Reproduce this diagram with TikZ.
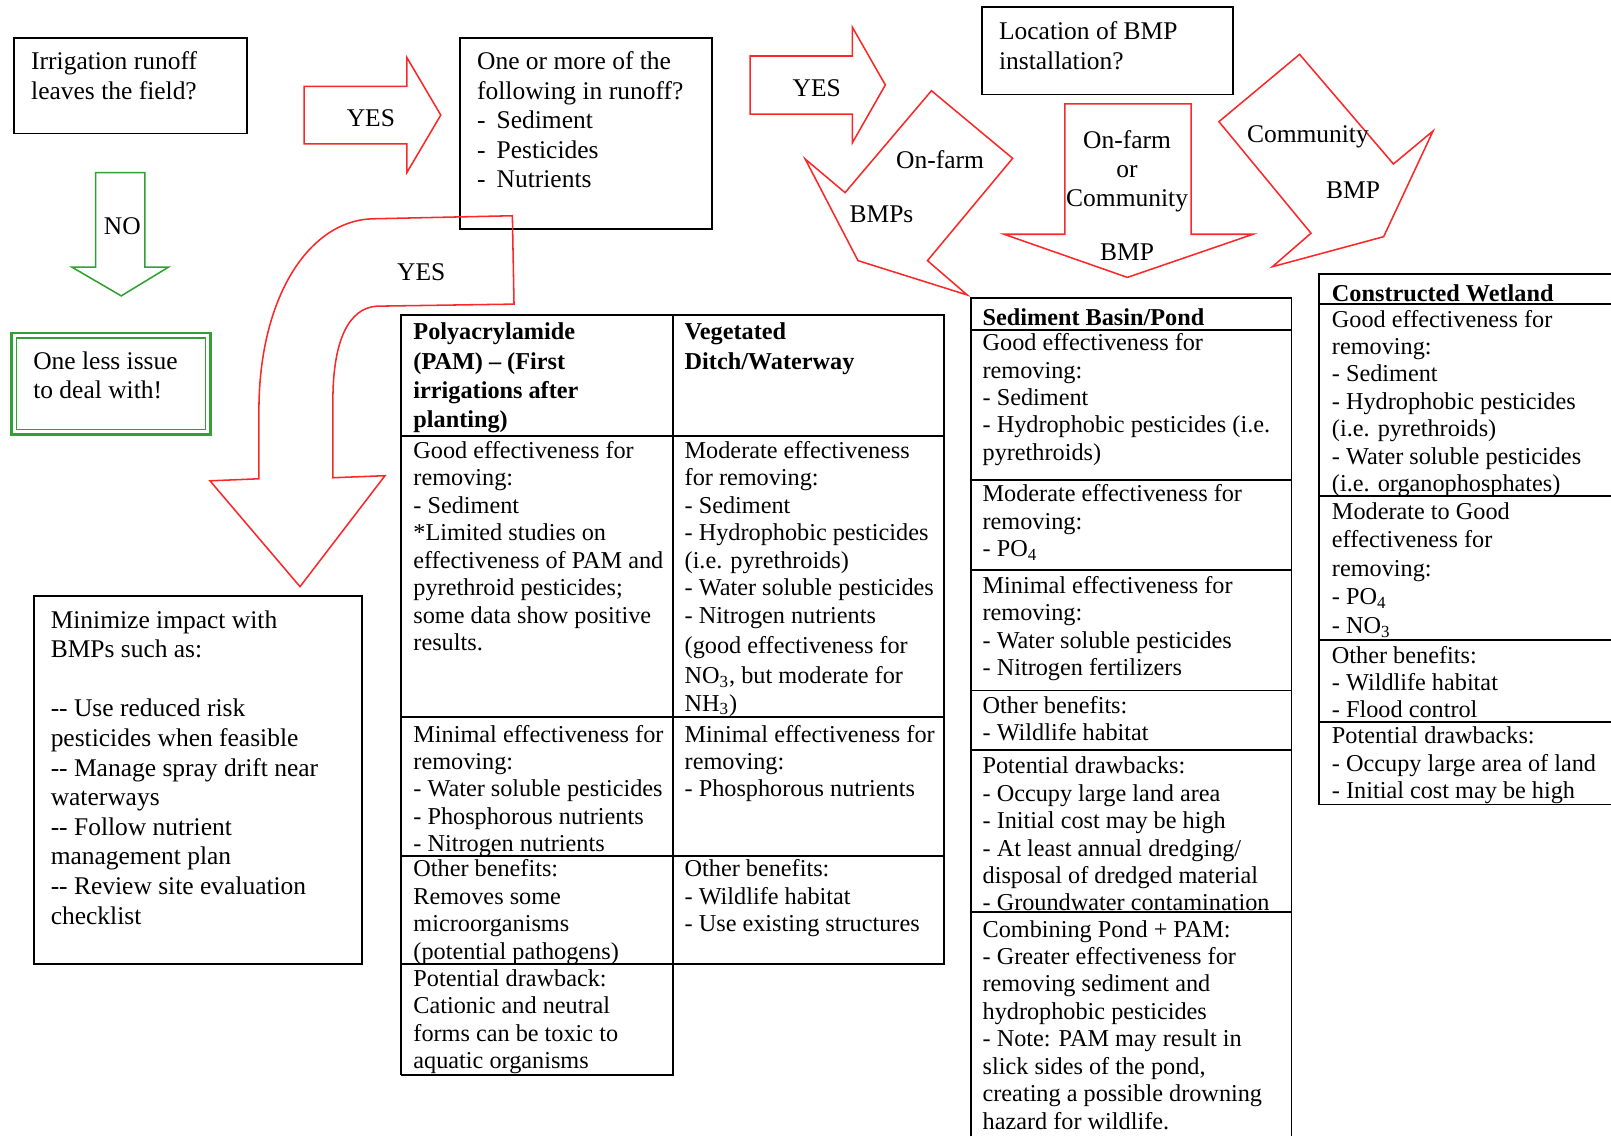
\documentclass[tikz,border=0pt]{standalone}
\usepackage{fontspec}
\setmainfont{Liberation Serif}
\definecolor{arrred}{RGB}{250,40,40}
\definecolor{grn}{RGB}{50,160,50}
\newcommand\tfont{\fontsize{11.8}{13.35}\selectfont}
\newcommand\hfont{\fontsize{11.8}{14.3}\selectfont\bfseries}
\newcommand\bxfont{\fontsize{12.4}{14.4}\selectfont}
\newcommand\wfont{\fontsize{11.8}{13.9}\selectfont}
\newcommand\dsh{\makebox[9.5pt][l]{-}}
\tikzset{
  bx/.style={draw=black, line width=0.9pt},
  tl/.style={draw=black, line width=0.9pt},
  rarr/.style={draw=arrred, line width=0.75pt, line join=miter},
  garr/.style={draw=grn, line width=0.75pt},
  basecell/.style={anchor=north west, inner sep=0pt, align=left, execute at begin node=\strut},
  cell/.style={basecell, font=\tfont, yshift=4.35pt},
  hcell/.style={basecell, font=\hfont, yshift=5pt},
  bcell/.style={basecell, font=\bxfont, yshift=5.1pt},
  wcell/.style={basecell, font=\wfont, yshift=4.75pt},
  lbl/.style={inner sep=0pt, font=\bxfont}
}
\begin{document}
\begin{tikzpicture}[x=0.5pt,y=-0.5pt]
\useasboundingbox (0,0) rectangle (1568,1106);

% ---------- question boxes ----------
\draw[bx] (14,37) rectangle (240,130);
\node[bcell] (q1) at (30,60) {Irrigation runoff\\leaves the field?};

\draw[bx] (448,37) rectangle (693,223);
\node[bcell] (q2) at (464,60) {One or more of the\\following in runoff?\\\dsh Sediment\\\dsh Pesticides\\\dsh Nutrients};

\draw[bx] (956,7) rectangle (1200,92);
\node[bcell] (q3) at (972,31) {Location of BMP\\installation?};

% ---------- green ----------
\draw[garr] (93,168) -- (141,168) -- (141,260) -- (164,260) -- (118,288) -- (70,260) -- (93,260) -- cycle;
\node[lbl] (no) at (119,220) {NO};
\draw[grn, line width=1.3pt] (11,324) rectangle (205,423);
\draw[grn, line width=0.9pt] (16,329) rectangle (200,418);
\node[bcell] (less) at (32,352) {One less issue\\to deal with!};

% ---------- red arrows ----------
\draw[rarr] (296,84) -- (396,84) -- (396,56) -- (429,112) -- (396,168) -- (396,140) -- (296,140) -- cycle;
\node[lbl] (yes1) at (361,115) {YES};

\draw[rarr] (498.7,210) -- (500.3,296) -- (366.5,298) .. controls (340,300) and (324,330) .. (324,390) -- (324,465) -- (374.7,463) -- (292,571) -- (204.4,468) -- (252,466) -- (252,400) .. controls (252,290) and (300,216) .. (361,213) -- cycle;
\node[lbl] (yes2) at (410,265) {YES};

\draw[rarr] (730,54.5) -- (829.7,54.5) -- (829.7,26.6) -- (861.7,82.7) -- (829.7,138.9) -- (829.7,111) -- (730,111) -- cycle;
\node[lbl] (yes3) at (795,86) {YES};

\draw[rarr] (783.7,154.8) -- (835.1,253.7) -- (941.4,287.1) -- (902.7,253.7) -- (985.6,154.1) -- (906.6,88.3) -- (822.5,187.5) -- cycle;
\node[lbl] (of1) at (915,155) {On-farm};
\node[lbl] (of2) at (858,209) {BMPs};

\draw[rarr] (1036.5,101.2) -- (1159.3,101.2) -- (1159.3,228) -- (1219.6,228) -- (1097.3,270) -- (977.2,228) -- (1036.5,228) -- cycle;
\node[lbl] (oc1) at (1097,136) {On-farm};
\node[lbl] (oc2) at (1097,167) {or};
\node[lbl] (oc3) at (1097,195) {Community};
\node[lbl] (oc4) at (1097,245) {BMP};

\draw[rarr] (1264.9,52.9) -- (1186.4,118.4) -- (1276,227) -- (1238.4,259.6) -- (1346.7,230.4) -- (1394.8,127.5) -- (1356.2,159.6) -- cycle;
\node[lbl] (cm1) at (1273,133) {Community};
\node[lbl] (cm2) at (1317,185) {BMP};

% ---------- Minimize box ----------
\draw[bx] (33,580) rectangle (352,938);
\node[bcell] (mini) at (49,604) {Minimize impact with\\BMPs such as:\\[14.4pt]-{}- Use reduced risk\\pesticides when feasible\\-{}- Manage spray drift near\\waterways\\-{}- Follow nutrient\\management plan\\-{}- Review site evaluation\\checklist};

% ---------- PAM / Vegetated table ----------
\draw[tl] (390,1046) -- (390,307) -- (919,307) -- (919,938) -- (390,938);
\draw[tl] (655,307) -- (655,1046) -- (390,1046);
\draw[tl] (390,424) -- (919,424);
\draw[tl] (390,698) -- (919,698);
\draw[tl] (390,833) -- (919,833);

\node[hcell] (pamh) at (402,324) {Polyacrylamide\\(PAM) – (First\\irrigations after\\planting)};
\node[hcell] (vegh) at (666,324) {Vegetated\\Ditch/Waterway};
\node[cell] (pam1) at (402,438) {Good effectiveness for\\removing:\\- Sediment\\*Limited studies on\\effectiveness of PAM and\\pyrethroid pesticides;\\some data show positive\\results.};
\node[cell] (veg1) at (666,438) {Moderate effectiveness\\for removing:\\- Sediment\\- Hydrophobic pesticides\\(i.e. pyrethroids)\\- Water soluble pesticides\\- Nitrogen nutrients\\[1.6pt](good effectiveness for\\[1.2pt]NO\textsubscript{3}, but moderate for\\NH\textsubscript{3})};
\node[cell] (pam2) at (402,714) {Minimal effectiveness for\\removing:\\- Water soluble pesticides\\- Phosphorous nutrients\\- Nitrogen nutrients};
\node[cell] (veg2) at (666,714) {Minimal effectiveness for\\removing:\\- Phosphorous nutrients};
\node[cell] (pam3) at (402,845) {Other benefits:\\Removes some\\microorganisms\\(potential pathogens)};
\node[cell] (veg3) at (666,845) {Other benefits:\\- Wildlife habitat\\- Use existing structures};
\node[cell] (pam4) at (402,952) {Potential drawback:\\Cationic and neutral\\forms can be toxic to\\aquatic organisms};

% ---------- Sediment Basin table ----------
\draw[tl] (945,1106) -- (945,290) -- (1257,290) -- (1257,1106);
\foreach \yy in {321,467,555,672,730,888} \draw[tl] (945,\yy) -- (1257,\yy);
\node[hcell] (sedh) at (956,306) {Sediment Basin/Pond};
\node[cell] (sed1) at (956,333) {Good effectiveness for\\removing:\\- Sediment\\- Hydrophobic pesticides (i.e.\\pyrethroids)};
\node[cell] (sed2) at (956,480) {Moderate effectiveness for\\removing:\\- PO\textsubscript{4}};
\node[cell] (sed3) at (956,569) {Minimal effectiveness for\\removing:\\- Water soluble pesticides\\- Nitrogen fertilizers};
\node[cell] (sed4) at (956,686) {Other benefits:\\- Wildlife habitat};
\node[cell] (sed5) at (956,745) {Potential drawbacks:\\- Occupy large land area\\- Initial cost may be high\\- At least annual dredging/\\disposal of dredged material\\- Groundwater contamination};
\node[cell] (sed6) at (956,904) {Combining Pond + PAM:\\- Greater effectiveness for\\removing sediment and\\hydrophobic pesticides\\- Note: PAM may result in\\slick sides of the pond,\\creating a possible drowning\\hazard for wildlife.};

% ---------- Constructed Wetland table ----------
\draw[tl] (1568,267) -- (1284,267) -- (1284,783) -- (1568,783);
\foreach \yy in {296,483,623,703} \draw[tl] (1284,\yy) -- (1568,\yy);
\node[hcell] (weth) at (1296,283) {Constructed Wetland};
\node[cell] (wet1) at (1296,310) {Good effectiveness for\\removing:\\- Sediment\\- Hydrophobic pesticides\\(i.e. pyrethroids)\\- Water soluble pesticides\\(i.e. organophosphates)};
\node[wcell] (wet2) at (1296,498) {Moderate to Good\\effectiveness for\\removing:\\- PO\textsubscript{4}\\- NO\textsubscript{3}};
\node[cell] (wet3) at (1296,637) {Other benefits:\\- Wildlife habitat\\- Flood control};
\node[cell] (wet4) at (1296,716) {Potential drawbacks:\\- Occupy large area of land\\- Initial cost may be high};
\end{tikzpicture}
\end{document}
